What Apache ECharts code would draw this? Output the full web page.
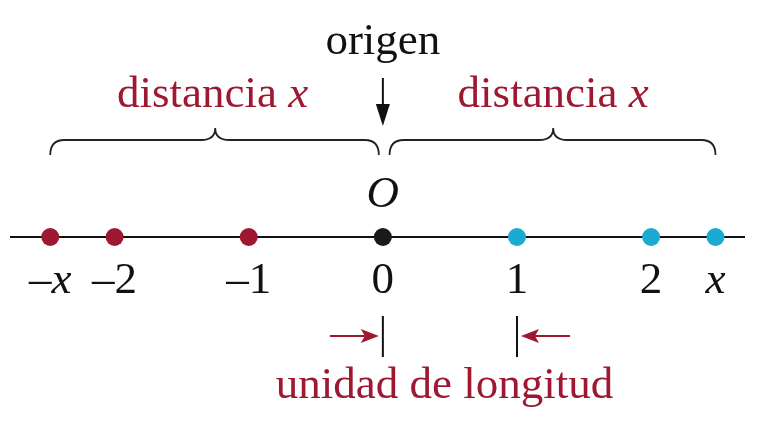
<!DOCTYPE html><html><head><meta charset="utf-8">
<script src="https://cdn.jsdelivr.net/npm/echarts@6/dist/echarts.min.js"></script>
<style>html,body{margin:0;padding:0;background:#fff}#c{width:759px;height:429px}</style></head><body><div id="c"></div>
<script>
const XVAL = 2.48;
const redPoints = [-XVAL, -2, -1];
const originPoint = [0];
const bluePoints = [1, 2, XVAL];
const tickLabels = [['–x',-XVAL,true],['–2',-2],['–1',-1],['0',0],['1',1],['2',2],['x',XVAL,true]];
const braces = [[-2.48,-0.03,-1.25],[0.05,2.48,1.27]];
const RED='#9d1830', BLUE='#1aaad2', SERIF='Liberation Serif, Times New Roman, serif';
const FS=45;
const chart = echarts.init(document.getElementById('c'));
function txt(x,y,text,color,size,rich){return {value:[x,y],label:{show:true,position:'inside',formatter:text,color:color,opacity:1,fontSize:size,fontFamily:SERIF,rich:rich}};}
const richRed={i:{fontStyle:'italic',color:RED,fontSize:FS,fontFamily:SERIF}};
const richBlk={i:{fontStyle:'italic',color:'#111',fontSize:FS,fontFamily:SERIF}};
chart.setOption({
 animation:false,
 grid:{left:10,right:14,top:0,bottom:0},
 xAxis:{type:'value',min:-2.78,max:2.70,show:false},
 yAxis:{type:'value',min:0,max:429,inverse:true,show:false},
 series:[
  {type:'line',data:[[-2.78,237],[2.70,237]],symbol:'none',lineStyle:{color:'#111',width:2},z:1},
  {type:'custom',z:2,data:braces,renderItem:function(p,api){
     const a=api.coord([api.value(0),155]), b=api.coord([api.value(1),155]), c=api.coord([api.value(2),128]);
     const y1=155,y2=140,y3=128,r=14;
     const d=`M${a[0]},${y1} Q${a[0]},${y2} ${a[0]+r},${y2} L${c[0]-r},${y2} Q${c[0]},${y2} ${c[0]},${y3} Q${c[0]},${y2} ${c[0]+r},${y2} L${b[0]-r},${y2} Q${b[0]},${y2} ${b[0]},${y1}`;
     return {type:'path',shape:{pathData:d},style:{stroke:'#222',lineWidth:1.8,fill:null}};
  }},
  {type:'custom',z:3,data:[[0]],renderItem:function(p,api){
     const x=api.coord([0,0])[0], x1=api.coord([1,0])[0];
     return {type:'group',children:[
      {type:'line',shape:{x1:x,y1:78,x2:x,y2:112},style:{stroke:'#111',lineWidth:2}},
      {type:'polygon',shape:{points:[[x-7,104],[x+7,104],[x,126]]},style:{fill:'#111'}},
      {type:'line',shape:{x1:x,y1:316,x2:x,y2:357},style:{stroke:'#111',lineWidth:2}},
      {type:'line',shape:{x1:x1,y1:316,x2:x1,y2:357},style:{stroke:'#111',lineWidth:2}},
      {type:'line',shape:{x1:x-53,y1:336,x2:x-15,y2:336},style:{stroke:RED,lineWidth:2}},
      {type:'polygon',shape:{points:[[x-22,329],[x-4,336],[x-22,343],[x-18,336]]},style:{fill:RED}},
      {type:'line',shape:{x1:x1+53,y1:336,x2:x1+15,y2:336},style:{stroke:RED,lineWidth:2}},
      {type:'polygon',shape:{points:[[x1+22,329],[x1+4,336],[x1+22,343],[x1+18,336]]},style:{fill:RED}}
     ]};
  }},
  {type:'scatter',z:4,symbolSize:18,itemStyle:{color:RED,opacity:1},data:redPoints.map(v=>[v,237])},
  {type:'scatter',z:4,symbolSize:18,itemStyle:{color:'#1a1a1a',opacity:1},data:originPoint.map(v=>[v,237])},
  {type:'scatter',z:4,symbolSize:18,itemStyle:{color:BLUE,opacity:1},data:bluePoints.map(v=>[v,237])},
  {type:'scatter',z:5,symbolSize:0,silent:true,itemStyle:{opacity:1},data:[
    txt(0,42,'origen','#111',FS),
    txt(-1.27,95,'distancia {i|x}',RED,FS,richRed),
    txt(1.27,95,'distancia {i|x}',RED,FS,richRed),
    {value:[0,195],label:{show:true,position:'inside',formatter:'O',color:'#111',opacity:1,fontSize:FS,fontStyle:'italic',fontFamily:SERIF}},
    ...tickLabels.map(t=>t[2]?txt(t[1],281,t[0]==='x'?'{i|x}':'–{i|x}','#111',FS,richBlk):txt(t[1],281,t[0],'#111',FS)),
    txt(0.46,386,'unidad de longitud',RED,FS)
  ]}
 ]
});
</script></body></html>
